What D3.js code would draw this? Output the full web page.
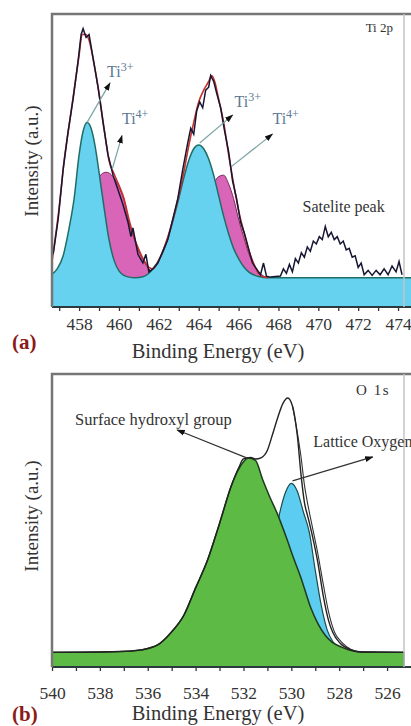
<!DOCTYPE html>
<html>
<head>
<meta charset="utf-8">
<script src="https://cdn.jsdelivr.net/npm/d3@7"></script>
<style>
body { margin: 0; background: #fff; }
svg { display: block; font-family: "Liberation Serif", "Times New Roman", serif; }
</style>
</head>
<body>
<svg id="chart" width="411" height="726"></svg>
<script>
// ---------- (a) Ti 2p : [binding energy eV, intensity a.u.] ----------
const tiRaw = [
  [456.70,18],[456.95,30],[457.20,47],[457.45,60],[457.70,71],[457.95,84],[458.10,93],[458.20,95],
  [458.35,92],[458.50,93],[458.70,85],[458.95,75],[459.20,63],[459.45,52],[459.70,45],[459.95,40],
  [460.20,35],[460.45,29],[460.60,24],[460.70,27],[460.95,18],[461.20,15],[461.35,18],[461.50,12],
  [461.70,13],[461.95,15],[462.20,19],[462.45,23],[462.70,30],[462.95,37],[463.20,47],[463.45,56],
  [463.60,61],[463.75,59],[463.90,67],[464.05,70],[464.20,68],[464.35,74],[464.50,75],[464.60,79],
  [464.75,77],[464.90,73],[465.10,68],[465.30,60],[465.50,53],[465.70,43],[465.90,37],[466.10,29],
  [466.30,25],[466.50,20],[466.70,15],[466.90,13],[467.10,11],[467.25,15],[467.40,10.5],[467.60,10.2],
  [467.85,10.4],[468.10,10.6],[468.25,13],[468.40,11.5],[468.55,14.5],[468.70,12],[468.85,16.5],[469.00,15],
  [469.15,18.5],[469.30,17],[469.45,20.5],[469.60,19],[469.75,22.5],[469.90,21.5],[470.05,24],[470.20,23],
  [470.35,27.5],[470.50,24],[470.65,25.5],[470.80,23],[470.95,24],[471.10,21.5],[471.25,22.5],[471.40,19.5],
  [471.55,20],[471.70,17],[471.85,17.5],[472.00,13.5],[472.15,15],[472.30,11],[472.50,12.5],[472.70,10.8],
  [472.90,12.5],[473.10,11],[473.30,13],[473.50,11],[473.70,14],[473.90,12],[474.05,15.5],[474.20,11]
];
const tiFit = [
  [456.65,16],[457.00,34],[457.25,50],[457.50,62],[457.75,74],[458.00,86],[458.15,93],[458.35,93],
  [458.50,91],[458.75,83],[459.00,73],[459.25,61],[459.50,50],[459.75,45.5],[460.00,41.5],[460.25,37],
  [460.50,30],[460.75,24],[461.00,19.5],[461.25,16],[461.50,13.5],[461.70,13],[462.00,16],[462.50,25],
  [463.00,38],[463.25,46],[463.50,55],[463.75,63],[464.00,70],[464.25,74],[464.50,77],[464.65,79],
  [464.80,77],[465.00,71],[465.25,63],[465.50,52],[465.75,42],[466.00,33],[466.25,26],[466.50,19.5],
  [466.75,15],[467.00,11.5],[467.25,10.3],[467.50,10]
];
// Ti3+ components (with background), filled to the axis
const tiTi3 = [
  [456.60,11],[456.90,13],[457.20,17.5],[457.50,27],[457.75,37],[458.00,52],[458.20,60],[458.40,63],
  [458.60,61],[458.80,55],[459.00,46],[459.25,34],[459.50,23],[459.75,16],[460.00,12.3],[460.25,10.8],
  [460.50,10.2],[460.80,10],[461.20,10.3],[461.50,11.5],[461.75,13.5],[462.00,16],[462.25,19.5],[462.50,24.5],
  [462.75,30.5],[463.00,37],[463.25,44],[463.50,50],[463.75,54],[464.00,55.3],[464.25,54],[464.50,50.5],
  [464.75,45],[465.00,38],[465.25,31],[465.50,25],[465.75,20],[466.00,16.5],[466.25,13.8],[466.50,12],
  [466.75,11],[467.00,10.4],[467.50,10],[474.70,10]
];
// Ti4+ components
const tiTi4a = [
  [458.00,27],[458.50,38],[459.00,44.5],[459.35,46],[459.70,44.5],[460.00,41],[460.25,36.5],[460.50,29],
  [460.75,23.5],[461.00,19],[461.25,15.5],[461.50,13],[461.75,11.3],[462.00,10.5],[462.30,10]
];
const tiTi4b = [
  [463.80,19],[464.30,32],[464.70,41],[465.00,44.5],[465.25,45],[465.50,42],[465.75,37],[466.00,30],
  [466.25,24],[466.50,18.5],[466.75,14.5],[467.00,12],[467.25,10.6],[467.50,10]
];
const tiBackground = 10;
const tiTickLabels = [458, 460, 462, 464, 466, 468, 470, 472, 474];

// ---------- (b) O 1s ----------
const oEnvelope = [
  [540.0,5],[537.5,5.2],[536.5,5.6],[536.0,6.3],[535.5,8],[535.0,12],[534.5,17.5],[534.0,27],
  [533.5,36.5],[533.0,49],[532.5,62],[532.2,68],[532.0,71],[531.7,71.5],[531.5,71],[531.25,71.5],
  [531.0,74],[530.8,79],[530.6,84.3],[530.35,90],[530.15,91.8],[529.95,89],[529.75,79],[529.6,66],
  [529.45,56],[529.3,51],[529.1,44],[528.9,36],[528.66,24],[528.45,16],[528.28,12],[527.95,8],
  [527.5,5.8],[527.1,5.1],[525.3,5]
];
const oRaw = [
  [529.95,89],[529.75,80],[529.6,72],[529.45,62],[529.3,55],[529.1,47],[528.9,39],[528.66,28],
  [528.45,19],[528.2,12],[527.9,8.5],[527.5,6],[527.1,5.1],[526.5,5]
];
const oHydroxyl = [
  [540.0,5],[537.5,5.2],[536.5,5.6],[536.0,6.3],[535.5,8],[535.0,12],[534.5,17.5],[534.0,27],
  [533.5,36.5],[533.0,49],[532.5,62],[532.2,67.5],[531.8,71.3],[531.5,70.5],[531.2,64],[530.9,58],
  [530.6,52.6],[530.2,44],[529.9,37],[529.6,30.5],[529.2,20.5],[528.9,15],[528.6,11],[528.3,8.5],
  [527.9,6.8],[527.5,5.6],[527.0,5.1],[525.3,5]
];
const oLattice = [
  [531.2,17],[530.8,38],[530.5,52],[530.25,59.5],[530.0,62.7],[529.75,60],[529.5,53],[529.25,46],
  [529.0,33],[528.75,21],[528.5,12.6],[528.25,8.5],[528.0,6.5],[527.6,5.2],[527.0,5]
];
const oTickLabels = [540, 538, 536, 534, 532, 530, 528, 526];

const svg = d3.select('#chart');
const defs = svg.append('defs');
defs.append('marker').attr('id', 'head')
  .attr('viewBox', '0 0 10 10').attr('refX', 9).attr('refY', 5)
  .attr('markerWidth', 7).attr('markerHeight', 7).attr('orient', 'auto')
  .append('path').attr('d', 'M0,1.5L10,5L0,8.5z').attr('fill', '#111');

// frame, bottom axis and titles shared by both panels
function drawFrame(x, y, ticks, labels, pad, tag, titleY, tagY, labelY) {
  const [x0, x1] = x.range();
  const [yb, yt] = y.range();
  const ax = svg.append('g').attr('transform', 'translate(0,' + yb + ')')
    .call(d3.axisBottom(x).tickValues(ticks).tickSize(4).tickPadding(pad)
      .tickFormat(d => labels.includes(d) ? d : ''));
  ax.select('.domain').remove();
  ax.selectAll('line').attr('stroke', '#333').attr('stroke-width', 1.3);
  ax.selectAll('text').attr('font-family', '"Liberation Serif", serif')
    .attr('font-size', 17.5).attr('fill', '#333');
  svg.append('line').attr('x1', x0).attr('x2', x1).attr('y1', yb).attr('y2', yb)
    .attr('stroke', '#2b3b3b').attr('stroke-width', 2);
  svg.append('path').attr('d', 'M' + x0 + ',' + yb + 'V' + yt + 'H' + x1)
    .attr('fill', 'none').attr('stroke', '#767676').attr('stroke-width', 2.5);
  svg.append('line').attr('x1', 404).attr('x2', 404).attr('y1', yt).attr('y2', yb)
    .attr('stroke', '#c4c4c4').attr('stroke-width', 1.5);
  svg.append('text').attr('x', 218).attr('y', titleY).attr('text-anchor', 'middle')
    .attr('font-size', 20.5).attr('fill', '#333').text('Binding Energy (eV)');
  svg.append('text').attr('x', 12).attr('y', tagY).attr('font-size', 21)
    .attr('font-weight', 'bold').attr('fill', '#8b1a1a').text(tag);
  svg.append('text').attr('transform', 'translate(38,' + labelY + ') rotate(-90)')
    .attr('text-anchor', 'middle').attr('font-size', 19).attr('fill', '#333')
    .text('Intensity (a.u.)');
}

function arrow(g, x, y, from, to) {
  g.append('line')
    .attr('x1', x(from[0])).attr('y1', y(from[1]))
    .attr('x2', x(to[0])).attr('y2', y(to[1]))
    .attr('stroke', g.attr('data-c')).attr('stroke-width', 1.2)
    .attr('marker-end', 'url(#head)');
}

// ================= panel (a) =================
const xA = d3.scaleLinear().domain([456.64, 474.65]).range([52, 411]);
const yA = d3.scaleLinear().domain([0, 100]).range([307, 14]);
defs.append('clipPath').attr('id', 'clipA').append('rect')
  .attr('x', 52).attr('y', 14).attr('width', 359).attr('height', 293);
const gA = svg.append('g').attr('clip-path', 'url(#clipA)');

const lineA = d3.line().x(d => xA(d[0])).y(d => yA(d[1])).curve(d3.curveMonotoneX);
const magArea = d3.area().x(d => xA(d[0])).y0(yA(tiBackground)).y1(d => yA(d[1])).curve(d3.curveMonotoneX);
const cyanArea = d3.area().x(d => xA(d[0])).y0(yA(0)).y1(d => yA(d[1])).curve(d3.curveMonotoneX);

[tiTi4a, tiTi4b].forEach(p => {
  gA.append('path').datum(p).attr('d', magArea).attr('fill', '#d965b8');
  gA.append('path').datum(p).attr('d', lineA).attr('fill', 'none')
    .attr('stroke', '#7a2660').attr('stroke-width', 1);
});
gA.append('path').datum(tiTi3).attr('d', cyanArea).attr('fill', '#66d2f0');
gA.append('path').datum(tiTi3).attr('d', lineA).attr('fill', 'none')
  .attr('stroke', '#1f6e66').attr('stroke-width', 1.5);
gA.append('path').datum(tiFit).attr('d', lineA).attr('fill', 'none')
  .attr('stroke', '#c8302c').attr('stroke-width', 1.6);
gA.append('path').datum(tiRaw)
  .attr('d', d3.line().x(d => xA(d[0])).y(d => yA(d[1])))
  .attr('fill', 'none').attr('stroke', '#161633').attr('stroke-width', 1.5);

drawFrame(xA, yA, d3.range(457, 475), tiTickLabels, 7, '(a)', 358, 349, 161);

const annA = svg.append('g').attr('data-c', '#7aa3a3');
const tiNotes = [
  { from: [458.40, 63], to: [459.55, 76.5], at: [459.40, 78.5], sup: '3+' },
  { from: [459.66, 47], to: [460.15, 58.5], at: [460.15, 62.5], sup: '4+' },
  { from: [464.05, 56], to: [465.70, 65.5], at: [465.80, 68.3], sup: '3+' },
  { from: [465.65, 48], to: [467.70, 59], at: [467.70, 62.5], sup: '4+' }
];
tiNotes.forEach(n => {
  arrow(annA, xA, yA, n.from, n.to);
  const t = annA.append('text').attr('x', xA(n.at[0])).attr('y', yA(n.at[1]))
    .attr('font-size', 16).attr('fill', '#5d7896').text('Ti');
  t.append('tspan').attr('dy', -6).attr('font-size', 12).text(n.sup);
});
svg.append('text').attr('x', 393).attr('y', 32).attr('text-anchor', 'end')
  .attr('font-size', 13).attr('fill', '#333').text('Ti 2p');
svg.append('text').attr('x', xA(471.27)).attr('y', yA(32.4)).attr('text-anchor', 'middle')
  .attr('font-size', 16).attr('fill', '#333').text('Satelite peak');

// ================= panel (b) =================
const xB = d3.scaleLinear().domain([540, 525]).range([52, 411]);
const yB = d3.scaleLinear().domain([0, 100]).range([667, 374]);
defs.append('clipPath').attr('id', 'clipB').append('rect')
  .attr('x', 52).attr('y', 374).attr('width', 359).attr('height', 293);
const gB = svg.append('g').attr('clip-path', 'url(#clipB)');

const lineB = d3.line().x(d => xB(d[0])).y(d => yB(d[1])).curve(d3.curveMonotoneX);
const areaB = d3.area().x(d => xB(d[0])).y0(yB(0)).y1(d => yB(d[1])).curve(d3.curveMonotoneX);

gB.append('path').datum(oLattice).attr('d', areaB).attr('fill', '#5ccdf0')
  .attr('stroke', '#1d4a4a').attr('stroke-width', 1.2);
gB.append('path').datum(oHydroxyl).attr('d', areaB).attr('fill', '#5dbb45')
  .attr('stroke', '#1e3a1e').attr('stroke-width', 1.5);
gB.append('path').datum(oRaw).attr('d', lineB).attr('fill', 'none')
  .attr('stroke', '#333').attr('stroke-width', 1.1);
gB.append('path').datum(oEnvelope).attr('d', lineB).attr('fill', 'none')
  .attr('stroke', '#222').attr('stroke-width', 1.4);

drawFrame(xB, yB, d3.range(526, 541), oTickLabels, 16, '(b)', 720, 721, 516);

const annB = svg.append('g').attr('data-c', '#333');
arrow(annB, xB, yB, [531.84, 71.3], [534.77, 80.9]);
arrow(annB, xB, yB, [529.95, 63.5], [526.6, 71.7]);
svg.append('text').attr('x', xB(539.04)).attr('y', yB(82.6))
  .attr('font-size', 16.5).attr('fill', '#333').text('Surface hydroxyl group');
svg.append('text').attr('x', xB(529.08)).attr('y', yB(75.1))
  .attr('font-size', 16).attr('fill', '#333').text('Lattice Oxygen');
svg.append('text').attr('x', 390).attr('y', 395).attr('text-anchor', 'end')
  .attr('font-size', 15).attr('letter-spacing', 1.5).attr('fill', '#333').text('O 1s');
</script>
</body>
</html>
